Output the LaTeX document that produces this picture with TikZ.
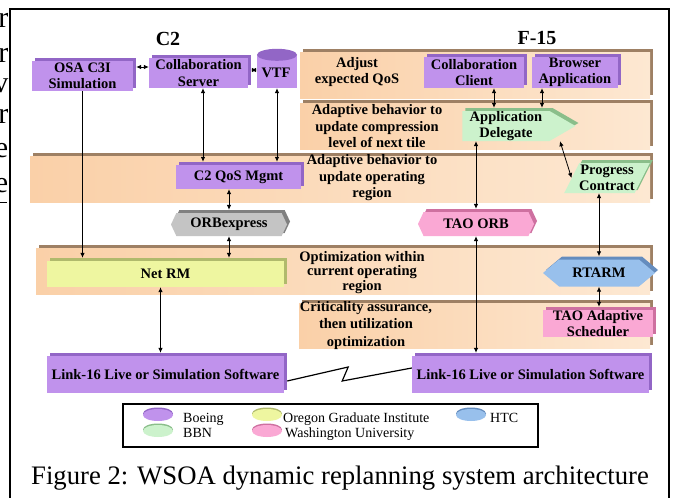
\documentclass[tikz,border=0pt]{standalone}
\usepackage{fontspec}
\setmainfont{Liberation Serif}
\usepackage{xcolor}
\definecolor{boeing}{RGB}{192,146,236}
\definecolor{boeingdk}{RGB}{146,102,198}
\definecolor{bbn}{RGB}{204,242,204}
\definecolor{bbndk}{RGB}{138,190,138}
\definecolor{ogi}{RGB}{238,246,160}
\definecolor{ogidk}{RGB}{176,186,108}
\definecolor{wustl}{RGB}{250,168,212}
\definecolor{wustldk}{RGB}{206,112,160}
\definecolor{htc}{RGB}{152,192,236}
\definecolor{htcdk}{RGB}{100,140,190}
\definecolor{orbgray}{RGB}{196,196,196}
\definecolor{orbgraydk}{RGB}{128,128,128}
\definecolor{peach}{RGB}{250,208,168}
\definecolor{peachlt}{RGB}{253,232,210}
\definecolor{rim}{RGB}{158,128,100}
\usepackage{tikz}
\usetikzlibrary{arrows.meta,positioning,calc,shadows,shapes.geometric,shapes.symbols}
\tikzset{
  %% one unit of the picture is one pixel of the figure
  boxfont/.style={font=\fontsize{14.5}{16.5}\selectfont\bfseries},
  %% components: flat face, darker copy peeking out up and right
  unitbox/.style={boxfont, draw=none, fill=#1, align=center, inner sep=0pt,
    general shadow={fill=#1dk, shadow xshift=3pt, shadow yshift=3pt}},
  hexbox/.style={unitbox=#1, signal, signal to=east and west},
  %% peach layers behind the components
  bandbox/.style={draw=none, left color=peach, right color=peachlt,
    minimum width=#1, minimum height=46pt, inner sep=0pt,
    general shadow={fill=rim, shadow xshift=2.5pt, shadow yshift=3pt}},
  bandtxt/.style={boxfont, align=center, inner sep=0pt},
  dbl/.style={{Latex[length=5pt,width=4.5pt]}-{Latex[length=5pt,width=4.5pt]}, line width=0.8pt},
  one/.style={-{Latex[length=5pt,width=4.5pt]}, line width=0.8pt},
  %% legend
  swatch/.style={ellipse, fill=#1, minimum width=30pt, minimum height=12pt, inner sep=0pt,
    general shadow={fill=#1dk, shadow yshift=1.5pt}},
  lgd/.style={font=\fontsize{14}{16}\selectfont, anchor=base west, inner sep=0pt},
}

\begin{document}
\begin{tikzpicture}[x=1pt,y=-1pt]
\useasboundingbox[fill=white] (0,0) rectangle (673,498);
\foreach \yy/\ch in {27/r,62/r,92/v,123/r,157/e,192/e}
  \node[font=\fontsize{30}{30}\selectfont, anchor=base east, inner sep=0pt] (frag\yy) at (8.5,\yy) {\ch};
\draw[line width=0.8pt] (-2,202) -- (7,202);
\draw[line width=2pt] (10,510) -- (10,9) -- (669,9) -- (669,510);

\node[font=\fontsize{20}{24}\selectfont\bfseries] (c2) at (168,39) {C2};
\node[font=\fontsize{20}{24}\selectfont\bfseries] (f15) at (537,38) {F-15};

\node[bandbox=350pt] (qos) at (475,75) {};
\node[bandbox=350pt] (tile) at (475,126) {};
\node[bandbox=620pt] (region) at (340,179) {};
\node[bandbox=614pt] (optim) at (343,271) {};
\node[bandbox=351pt, minimum height=45pt] (crit) at (474.5,325.5) {};
\node[bandtxt] (qostxt) at (357,72) {Adjust\\expected QoS};
\node[bandtxt] (tiletxt) at (377,126.5) {Adaptive behavior to\\update compression\\level of next tile};
\node[bandtxt] (regiontxt) at (372,178) {Adaptive behavior to\\update operating\\region};
\node[bandtxt, font=\fontsize{14.5}{14.5}\selectfont\bfseries] (optimtxt) at (362,272.5) {Optimization within\\current operating\\region};
\node[bandtxt, font=\fontsize{14.5}{17.5}\selectfont\bfseries] (crittxt) at (366,325.5) {Criticality assurance,\\then utilization\\optimization};

\node[unitbox=boeing, minimum width=101pt, minimum height=30pt] (osa) at (82.5,76) {OSA C3I\\Simulation};
\node[unitbox=boeing, minimum width=99pt, minimum height=30pt] (server) at (198.5,73) {Collaboration\\Server};
\node[boxfont, fill=boeing, minimum width=40pt, minimum height=33pt, inner sep=0pt] (vtf) at (277,71.5) {};
\fill[boeingdk] (vtf.north) ellipse (20pt and 6pt);
\node[boxfont] (vtftxt) at (276,73) {VTF};
\node[unitbox=boeing, minimum width=100pt, minimum height=31pt] (client) at (474,72.5) {Collaboration\\Client};
\node[unitbox=boeing, minimum width=86pt, minimum height=31pt] (browser) at (575,72.5) {Browser\\Application};
\node[unitbox=bbn, signal, signal to=east, signal pointer angle=60,
      minimum width=113pt, minimum height=30pt] (delegate) at (506,126) {Application\\Delegate};
\node[unitbox=bbn, trapezium, trapezium left angle=60, trapezium right angle=120,
      trapezium stretches=true, minimum width=86pt, minimum height=30pt] (contract) at (607,178) {Progress\\Contract};
\node[unitbox=boeing, minimum width=125pt, minimum height=24pt] (c2qos) at (238.5,177) {C2 QoS Mgmt};
\node[hexbox=orbgray, signal pointer angle=130, minimum width=116pt, minimum height=23pt] (orbx) at (229,224.5) {ORBexpress};
\node[hexbox=wustl, signal pointer angle=130, minimum width=116pt, minimum height=24pt] (taoorb) at (476,224) {TAO ORB};
\node[unitbox=ogi, minimum width=237pt, minimum height=26pt] (netrm) at (165.5,274) {Net RM};
\node[hexbox=htc, signal pointer angle=80, minimum width=112pt, minimum height=27pt] (rtarm) at (599,273) {RTARM};
\node[unitbox=wustl, minimum width=110pt, minimum height=27pt] (sched) at (598,323.5) {TAO Adaptive\\Scheduler};
\node[unitbox=boeing, minimum width=237pt, minimum height=37pt] (linkl) at (165.5,374.5) {Link-16 Live or Simulation Software};
\node[unitbox=boeing, minimum width=237pt, minimum height=37pt] (linkr) at (530.5,374.5) {Link-16 Live or Simulation Software};

\draw[dbl] ($(osa.east)+(3,-9)$) -- ($(server.west)+(0,-6)$);
\draw[dbl] ($(server.east)+(3,-3)$) -- ($(vtf.west)+(0,-1.5)$);
\draw[one] (osa.south) -- ([yshift=3pt]osa.south |- netrm.north);
\draw[dbl] ([xshift=4.5pt]server.south) -- ([xshift=4.5pt,yshift=3pt]server.south |- c2qos.north);
\draw[dbl] (vtf.south) -- ([yshift=3pt]vtf.south |- c2qos.north);
\draw[dbl] (c2qos.south -| orbx.north) -- ([yshift=3pt]orbx.north);
\draw[dbl] (orbx.south) -- ([yshift=3pt]orbx.south |- netrm.north);
\draw[dbl] ([xshift=-5pt]netrm.south) -- ([xshift=-5pt,yshift=3pt]netrm.south |- linkl.north);
\draw[dbl] ([xshift=20pt]client.south) -- ([xshift=20pt,yshift=3pt]client.south |- delegate.north);
\draw[dbl] ([xshift=-33pt]browser.south) -- ([xshift=-33pt,yshift=3pt]browser.south |- delegate.north);
\draw[dbl] (taoorb.north |- delegate.south) -- ([yshift=3pt]taoorb.north);
\draw[dbl] ([xshift=54pt]delegate.south) -- (contract.west);
\draw[dbl] (taoorb.south) -- ([yshift=3pt]taoorb.south |- linkr.north);
\draw[dbl] (rtarm.north |- contract.south) -- ([yshift=3pt]rtarm.north);
\draw[dbl] (rtarm.south) -- ([yshift=3pt]rtarm.south |- sched.north);
\draw[line width=1.2pt] ($(linkl.east)+(3,6.5)$) -- ++(61,-14) -- ++(-6,14) -- ($(linkr.west)+(0,-6.5)$);

\node[draw, line width=2pt, minimum width=415pt, minimum height=43pt, inner sep=0pt] (legend) at (330.5,425.5) {};
\node[swatch=boeing] (sw1) at (158,415) {};
\node[swatch=bbn] (sw2) at (158,431) {};
\node[swatch=ogi] (sw3) at (267,415) {};
\node[swatch=wustl] (sw4) at (267,431) {};
\node[swatch=htc] (sw5) at (471,415) {};
\node[lgd] (l1) at (183,422) {Boeing};
\node[lgd] (l2) at (183,437) {BBN};
\node[lgd] (l3) at (283,422) {Oregon Graduate Institute};
\node[lgd] (l4) at (285,437) {Washington University};
\node[lgd] (l5) at (490,422) {HTC};

\node[font=\fontsize{26.7}{30}\selectfont, anchor=base, inner sep=0pt] (caption) at (340,484) {Figure 2: WSOA dynamic replanning system architecture};
\end{tikzpicture}
\end{document}
